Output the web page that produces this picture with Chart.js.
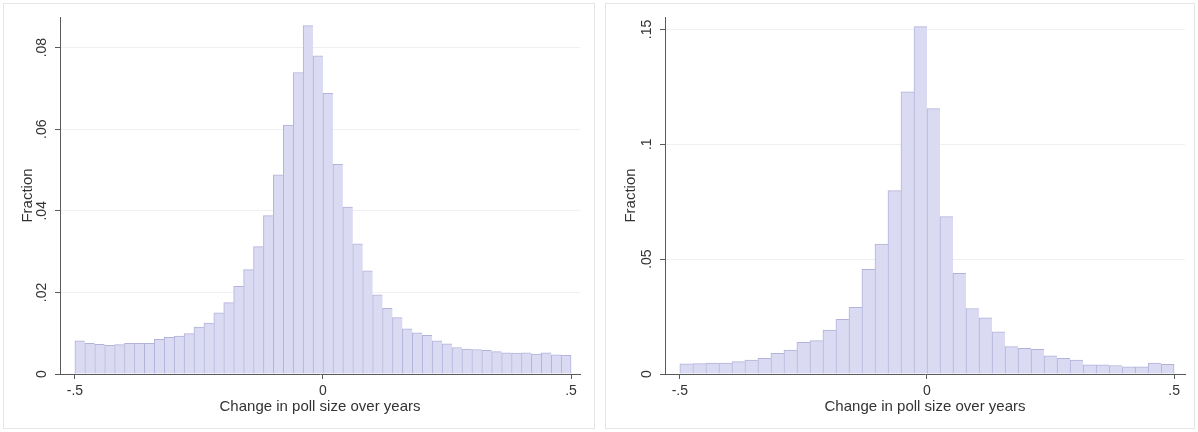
<!DOCTYPE html>
<html>
<head>
<meta charset="utf-8">
<script src="https://cdn.jsdelivr.net/npm/chart.js@4"></script>
<style>
  body { margin: 0; background: #fff; width: 1198px; height: 432px; position: relative; overflow: hidden; }
  .panel { position: absolute; top: 3px; height: 424px; border: 1px solid #e6e6e6; }
  #p1 { left: 3px; width: 590px; }
  #p2 { left: 605px; width: 588px; }
  canvas { display: block; }
</style>
</head>
<body>
<div class="panel" id="p1"><canvas id="c1" width="590" height="424"></canvas></div>
<div class="panel" id="p2"><canvas id="c2" width="588" height="424"></canvas></div>
<script>
// --- data ---
// left histogram: 50 bins of width .02 from -.5 to .5
const leftBinStart = -0.5;
const leftBinWidth = 0.02;
const leftFraction = [
  0.0081, 0.0075, 0.0073, 0.0070, 0.0072, 0.0075, 0.0075, 0.0075, 0.0085, 0.0090,
  0.0093, 0.0099, 0.0115, 0.0125, 0.0150, 0.0175, 0.0215, 0.0256, 0.0312, 0.0388,
  0.0488, 0.0610, 0.0739, 0.0854, 0.0780, 0.0688, 0.0514, 0.0409, 0.0319, 0.0253,
  0.0194, 0.0161, 0.0138, 0.0111, 0.0101, 0.0095, 0.0081, 0.0074, 0.0065, 0.0061,
  0.0060, 0.0058, 0.0055, 0.0052, 0.0051, 0.0052, 0.0049, 0.0052, 0.0047, 0.0046
];
// right histogram: 38 bins of width 1/38 from -.5 to .5
const rightBinStart = -0.5;
const rightBinWidth = 1 / 38;
const rightFraction = [
  0.0044, 0.0045, 0.0047, 0.0048, 0.0054, 0.0061, 0.0068, 0.0090, 0.0104, 0.0138,
  0.0145, 0.0191, 0.0238, 0.0290, 0.0456, 0.0566, 0.0798, 0.1228, 0.1512, 0.1155,
  0.0685, 0.0438, 0.0285, 0.0245, 0.0184, 0.0119, 0.0112, 0.0107, 0.0079, 0.0068,
  0.0061, 0.0040, 0.0040, 0.0037, 0.0031, 0.0031, 0.0048, 0.0042
];

const xTicks = [-0.5, 0, 0.5];
const xTickLabels = ["-.5", "0", ".5"];
const leftYTicks = [0, 0.02, 0.04, 0.06, 0.08];
const leftYTickLabels = ["0", ".02", ".04", ".06", ".08"];
const rightYTicks = [0, 0.05, 0.1, 0.15];
const rightYTickLabels = ["0", ".05", ".1", ".15"];

const xTitle = "Change in poll size over years";
const yTitle = "Fraction";

// --- styling ---
const FILL = "#dadaf2";
const EDGE = "#b2b2da";
const AXIS = "#5a5a5a";
const GRID = "#eef0f4";
const TEXT = "#333333";

Chart.defaults.font.family = '"Liberation Sans", Arial, sans-serif';

function binCenters(start, width, n) {
  const out = [];
  for (let i = 0; i < n; i++) out.push(start + width * (i + 0.5));
  return out;
}

function makeHist(id, centers, values, yTicks, yLabels, cfg) {
  const canvas = document.getElementById(id);
  const W = canvas.width, H = canvas.height;
  const last = values.length - 1;
  return new Chart(canvas, {
    type: "bar",
    data: {
      datasets: [{
        data: centers.map((x, i) => ({ x: x, y: values[i] })),
        backgroundColor: FILL,
        borderColor: EDGE,
        borderSkipped: false,
        borderWidth: (c) => c.dataIndex === last
          ? { top: 1, left: 1, right: 1, bottom: 0 }
          : { top: 1, left: 1, right: 0, bottom: 0 },
        barPercentage: 1,
        categoryPercentage: 1,
      }],
    },
    options: {
      responsive: false,
      animation: false,
      events: [],
      layout: { padding: { top: cfg.top, right: W - cfg.right, left: 0, bottom: 0 } },
      plugins: { legend: { display: false }, tooltip: { enabled: false } },
      scales: {
        x: {
          type: "linear",
          min: cfg.xMin,
          max: cfg.xMax,
          offset: false,
          afterBuildTicks: (s) => { s.ticks = xTicks.map((v) => ({ value: v })); },
          afterFit: (s) => { s.height = H - cfg.bottom; },
          grid: { drawOnChartArea: false, offset: false, tickLength: 5, tickColor: AXIS },
          border: { color: AXIS, width: 1 },
          ticks: {
            callback: (v, i) => xTickLabels[i],
            color: TEXT, font: { size: 14 }, padding: 4,
            minRotation: 0, maxRotation: 0, autoSkip: false,
          },
          title: { display: true, text: xTitle, color: TEXT, font: { size: 15 }, padding: { top: 0, bottom: 12 } },
        },
        y: {
          min: 0,
          max: cfg.yMax,
          afterBuildTicks: (s) => { s.ticks = yTicks.map((v) => ({ value: v })); },
          afterFit: (s) => { s.width = cfg.left; },
          grid: { color: GRID, tickColor: AXIS, tickLength: 5 },
          border: { color: AXIS, width: 1 },
          ticks: {
            callback: (v, i) => yLabels[i],
            color: TEXT, font: { size: 14 }, padding: 3.5,
            minRotation: 90, maxRotation: 90, crossAlign: "center", autoSkip: false,
          },
          title: { display: true, text: yTitle, color: TEXT, font: { size: 15 }, padding: { top: cfg.titlePad, bottom: 0 } },
        },
      },
    },
  });
}

// plot box in canvas pixels for each panel
makeHist("c1",
  binCenters(leftBinStart, leftBinWidth, leftFraction.length),
  leftFraction, leftYTicks, leftYTickLabels,
  { left: 56, right: 576, top: 13, bottom: 370, xMin: -0.530, xMax: 0.518, yMax: 0.0875, titlePad: 14.5 });

makeHist("c2",
  binCenters(rightBinStart, rightBinWidth, rightFraction.length),
  rightFraction, rightYTicks, rightYTickLabels,
  { left: 59, right: 579, top: 13, bottom: 370, xMin: -0.530, xMax: 0.522, yMax: 0.1554, titlePad: 16 });
</script>
</body>
</html>
